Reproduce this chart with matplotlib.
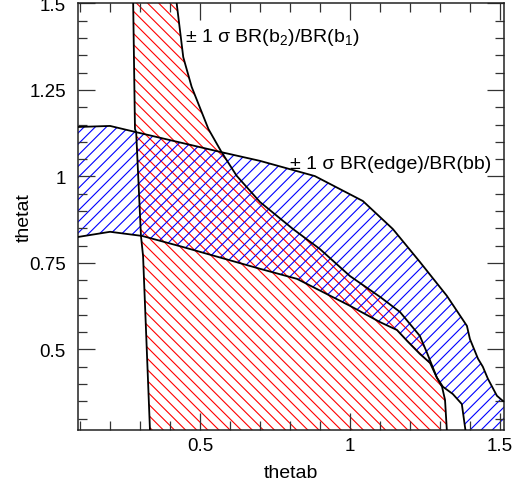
import matplotlib
matplotlib.use("Agg")
import matplotlib.pyplot as plt
from matplotlib.ticker import MultipleLocator, FixedLocator
from matplotlib.patches import Polygon

plt.rcParams['font.family'] = ['Liberation Sans', 'DejaVu Sans']
plt.rcParams['mathtext.fontset'] = 'custom'
plt.rcParams['mathtext.rm'] = 'Liberation Sans'
plt.rcParams['mathtext.it'] = 'Liberation Sans:italic'
plt.rcParams['hatch.linewidth'] = 0.8

# ---- data ----
# left boundary of the BR(b2)/BR(b1) band (x as function of y)
red_left_x = [0.2755, 0.277, 0.283, 0.287, 0.303, 0.310, 0.333, 0.334]
red_left_y = [1.52, 1.50, 1.137, 1.128, 0.828, 0.770, 0.267, 0.25]
# right boundary of the BR(b2)/BR(b1) band
red_right_x = [0.420, 0.422, 0.444, 0.472, 0.528, 0.572, 0.622, 0.700, 0.810, 0.900,
               1.000, 1.100, 1.167, 1.233, 1.257, 1.290, 1.307, 1.317, 1.323, 1.324]
red_right_y = [1.52, 1.501, 1.345, 1.259, 1.137, 1.070, 1.002, 0.926, 0.848, 0.790,
               0.712, 0.652, 0.608, 0.539, 0.490, 0.418, 0.392, 0.354, 0.267, 0.25]
# upper boundary of the BR(edge)/BR(bb) band
blue_hi_x = [0.08, 0.093, 0.200, 0.287, 0.572, 0.700, 0.883, 1.043, 1.143, 1.233,
             1.323, 1.390, 1.400, 1.427, 1.443, 1.460, 1.490, 1.510, 1.53]
blue_hi_y = [1.143, 1.143, 1.146, 1.128, 1.070, 1.045, 1.001, 0.929, 0.848, 0.753,
             0.655, 0.568, 0.530, 0.473, 0.450, 0.415, 0.366, 0.351, 0.345]
# lower boundary of the BR(edge)/BR(bb) band
blue_lo_x = [0.08, 0.093, 0.200, 0.307, 0.443, 0.700, 0.823, 1.000, 1.100, 1.157,
             1.190, 1.233, 1.267, 1.290, 1.310, 1.343, 1.373, 1.385, 1.388]
blue_lo_y = [0.823, 0.825, 0.840, 0.828, 0.796, 0.733, 0.704, 0.626, 0.579, 0.556,
             0.525, 0.487, 0.461, 0.418, 0.392, 0.371, 0.342, 0.267, 0.25]

label_red = r'± 1 σ BR(b$_2$)/BR(b$_1$)'
label_blue = '± 1 σ BR(edge)/BR(bb)'
x_title = 'thetab'
y_title = 'thetat'

fig = plt.figure(figsize=(5.2, 4.89), dpi=100)
ax = fig.add_axes([78.3 / 520, 1 - 431 / 489, (503.5 - 78.3) / 520, (431 - 4) / 489])
ax.set_xlim(0.094, 1.512)
ax.set_ylim(0.267, 1.5014)

# red band polygon
red_poly = list(zip(red_left_x, red_left_y)) + list(zip(red_right_x[::-1], red_right_y[::-1]))
ax.add_patch(Polygon(red_poly, closed=True, fill=False, edgecolor='#ff0000',
                     linewidth=0, hatch='\\\\\\', zorder=1))
# blue band polygon
blue_poly = list(zip(blue_hi_x, blue_hi_y)) + [(1.53, 0.25)] + list(zip(blue_lo_x[::-1], blue_lo_y[::-1]))
ax.add_patch(Polygon(blue_poly, closed=True, fill=False, edgecolor='#0000ff',
                     linewidth=0, hatch='///', zorder=1))

lw = 1.3
ax.plot(red_left_x, red_left_y, color='black', lw=lw, zorder=3)
ax.plot(red_right_x, red_right_y, color='black', lw=lw, zorder=3)
ax.plot(blue_hi_x, blue_hi_y, color='black', lw=lw, zorder=3)
ax.plot(blue_lo_x, blue_lo_y, color='black', lw=lw, zorder=3)

ax.text(0.45, 1.392, label_red, fontsize=14, va='baseline', ha='left', zorder=4)
ax.text(0.80, 1.0237, label_blue, fontsize=14, va='baseline', ha='left', zorder=4)

ax.xaxis.set_major_locator(FixedLocator([0.5, 1.0, 1.5]))
ax.xaxis.set_minor_locator(MultipleLocator(0.1))
ax.yaxis.set_major_locator(FixedLocator([0.5, 0.75, 1.0, 1.25, 1.5]))
ax.yaxis.set_minor_locator(MultipleLocator(0.05))
ax.set_xticklabels(['0.5', '1', '1.5'])
ax.set_yticklabels(['0.5', '0.75', '1', '1.25', '1.5'])

ax.tick_params(which='both', direction='in', top=True, right=True, color='#333333', width=0.9)
ax.tick_params(which='major', length=12.2, labelsize=13.5)
ax.tick_params(which='minor', length=6.5)
ax.tick_params(axis='x', which='major', pad=5)
ax.tick_params(axis='y', which='major', pad=9)

for s in ax.spines.values():
    s.set_linewidth(1.1)
    s.set_color('#222222')

ax.set_xlabel(x_title, fontsize=14)
ax.set_ylabel(y_title, fontsize=14)
ax.xaxis.set_label_coords(0.5, -0.079)
ax.yaxis.set_label_coords(-0.108, 0.5)

fig.savefig('out.png', dpi=100)
